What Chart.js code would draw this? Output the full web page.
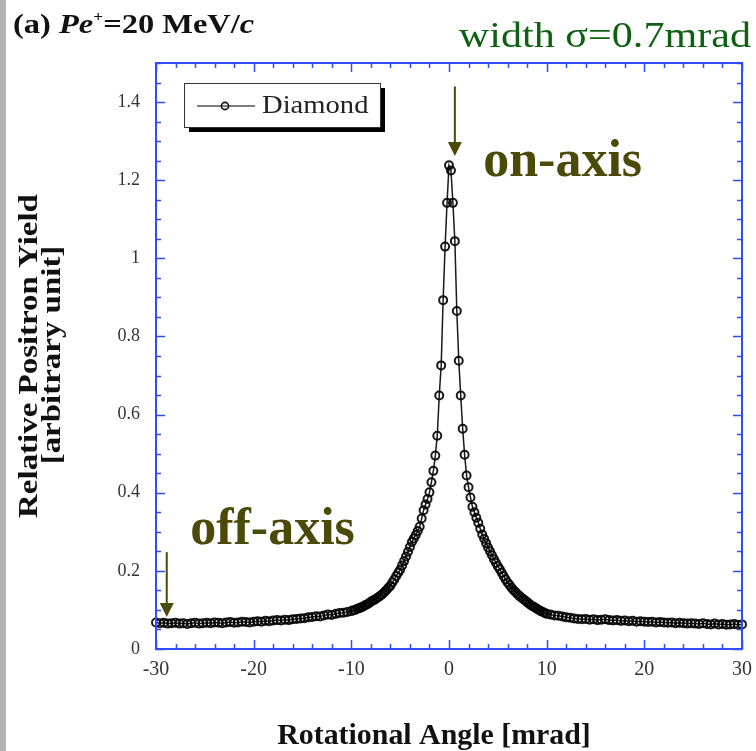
<!DOCTYPE html>
<html>
<head>
<meta charset="utf-8">
<script src="https://cdn.jsdelivr.net/npm/chart.js@4.4.1/dist/chart.umd.min.js"></script>
<style>
  html, body { margin: 0; padding: 0; background: #fff; }
  #wrap { width: 756px; height: 751px; position: relative; }
</style>
</head>
<body>
<div id="wrap"><canvas id="yieldChart" width="756" height="751"></canvas></div>
<script>
// Positron yield vs crystal rotation angle.

// wings are sampled coarser, the peak region every 0.2 mrad
const angleWingL = [-30.0, -29.6, -29.2, -28.8, -28.4, -28.0, -27.6, -27.2, -26.8, -26.4,
  -26.0, -25.6, -25.2, -24.8, -24.4, -24.0, -23.6, -23.2, -22.8, -22.4,
  -22.0, -21.6, -21.2, -20.8, -20.4, -20.0, -19.6, -19.2, -18.8, -18.4,
  -18.0, -17.6, -17.2, -16.8, -16.4, -16.0, -15.6, -15.2, -14.8, -14.4,
  -14.0, -13.6, -13.2, -12.8, -12.4, -12.0, -11.6, -11.2, -10.8, -10.4];
const yieldWingL = [0.068, 0.066, 0.067, 0.065, 0.066, 0.067, 0.065, 0.066, 0.064, 0.066,
  0.067, 0.065, 0.066, 0.067, 0.066, 0.068, 0.067, 0.066, 0.068, 0.069,
  0.067, 0.068, 0.070, 0.069, 0.068, 0.070, 0.071, 0.070, 0.072, 0.071,
  0.073, 0.074, 0.073, 0.075, 0.074, 0.076, 0.077, 0.078, 0.079, 0.081,
  0.082, 0.084, 0.083, 0.086, 0.088, 0.087, 0.090, 0.092, 0.093, 0.095];

const angleCore = [-10.0, -9.8, -9.6, -9.4, -9.2, -9.0, -8.8, -8.6, -8.4, -8.2,
  -8.0, -7.8, -7.6, -7.4, -7.2, -7.0, -6.8, -6.6, -6.4, -6.2,
  -6.0, -5.8, -5.6, -5.4, -5.2, -5.0, -4.8, -4.6, -4.4, -4.2,
  -4.0, -3.8, -3.6, -3.4, -3.2, -3.0, -2.8, -2.6, -2.4, -2.2,
  -2.0, -1.8, -1.6, -1.4, -1.2, -1.0, -0.8, -0.6, -0.4, -0.2,
  0.0,
  0.2, 0.4, 0.6, 0.8, 1.0, 1.2, 1.4, 1.6, 1.8, 2.0,
  2.2, 2.4, 2.6, 2.8, 3.0, 3.2, 3.4, 3.6, 3.8, 4.0,
  4.2, 4.4, 4.6, 4.8, 5.0, 5.2, 5.4, 5.6, 5.8, 6.0,
  6.2, 6.4, 6.6, 6.8, 7.0, 7.2, 7.4, 7.6, 7.8, 8.0,
  8.2, 8.4, 8.6, 8.8, 9.0, 9.2, 9.4, 9.6, 9.8, 10.0];
const yieldCore = [0.097, 0.099, 0.100, 0.103, 0.104, 0.107, 0.108, 0.112, 0.114, 0.117,
  0.121, 0.124, 0.126, 0.130, 0.133, 0.137, 0.141, 0.146, 0.151, 0.157,
  0.162, 0.170, 0.178, 0.187, 0.195, 0.203, 0.214, 0.225, 0.237, 0.249,
  0.261, 0.274, 0.283, 0.292, 0.302, 0.313, 0.334, 0.355, 0.370, 0.384,
  0.401, 0.427, 0.456, 0.495, 0.546, 0.649, 0.726, 0.893, 1.030, 1.142,
  1.238,
  1.225, 1.142, 1.044, 0.865, 0.738, 0.649, 0.564, 0.497, 0.444, 0.414,
  0.388, 0.364, 0.350, 0.336, 0.323, 0.308, 0.293, 0.282, 0.271, 0.260,
  0.250, 0.240, 0.230, 0.221, 0.212, 0.204, 0.195, 0.186, 0.178, 0.170,
  0.164, 0.157, 0.151, 0.146, 0.141, 0.136, 0.132, 0.128, 0.124, 0.120,
  0.116, 0.112, 0.109, 0.106, 0.103, 0.100, 0.097, 0.095, 0.092, 0.090];

const angleWingR = [10.4, 10.8, 11.2, 11.6, 12.0, 12.4, 12.8, 13.2, 13.6, 14.0,
  14.4, 14.8, 15.2, 15.6, 16.0, 16.4, 16.8, 17.2, 17.6, 18.0,
  18.4, 18.8, 19.2, 19.6, 20.0, 20.4, 20.8, 21.2, 21.6, 22.0,
  22.4, 22.8, 23.2, 23.6, 24.0, 24.4, 24.8, 25.2, 25.6, 26.0,
  26.4, 26.8, 27.2, 27.6, 28.0, 28.4, 28.8, 29.2, 29.6, 30.0];
const yieldWingR = [0.088, 0.086, 0.085, 0.083, 0.081, 0.080, 0.078, 0.077, 0.076, 0.077,
  0.075, 0.076, 0.074, 0.075, 0.076, 0.074, 0.073, 0.074, 0.072, 0.073,
  0.071, 0.072, 0.070, 0.071, 0.070, 0.069, 0.070, 0.068, 0.069, 0.068,
  0.067, 0.068, 0.066, 0.067, 0.066, 0.065, 0.066, 0.065, 0.064, 0.066,
  0.064, 0.063, 0.065, 0.063, 0.064, 0.062, 0.063, 0.064, 0.062, 0.063];

const xTicks = [-30, -20, -10, 0, 10, 20, 30];
const yTicks = [0, 0.2, 0.4, 0.6, 0.8, 1, 1.2, 1.4];
const seriesLabel = "Diamond";
const xTitle = "Rotational Angle [mrad]";
const yTitle = ["Relative Positron Yield", "[arbitrary unit]"];

const SERIF = '"Liberation Serif", "Times New Roman", serif';
const AXIS_BLUE = "#2f4cff";
const OLIVE = "#4b4a08";
const GREEN = "#0f6112";

const angles = angleWingL.concat(angleCore, angleWingR);
const yields = yieldWingL.concat(yieldCore, yieldWingR);
const points = angles.map((a, i) => ({ x: a, y: yields[i] }));

function arrowDown(ctx, x, yTop, yTip) {
  ctx.beginPath();
  ctx.moveTo(x, yTop);
  ctx.lineTo(x, yTip - 10);
  ctx.stroke();
  ctx.beginPath();
  ctx.moveTo(x - 7, yTip - 14);
  ctx.lineTo(x + 7, yTip - 14);
  ctx.lineTo(x, yTip);
  ctx.closePath();
  ctx.fill();
}

// the scanned lettering is a bit wider than Liberation Serif, so stretch it
function wideText(ctx, text, x, y, font, sx, align, rot) {
  ctx.save();
  ctx.translate(x, y);
  if (rot) ctx.rotate(rot);
  ctx.scale(sx, 1);
  ctx.font = font;
  ctx.textAlign = align || "left";
  ctx.fillText(text, 0, 0);
  ctx.restore();
}

// text made of runs with different fonts (italic symbols, superscript)
function drawRuns(ctx, x, y, sx, runs) {
  ctx.save();
  ctx.translate(x, y);
  ctx.scale(sx, 1);
  ctx.textAlign = "left";
  ctx.textBaseline = "alphabetic";
  let cx = 0;
  for (const r of runs) {
    ctx.font = r.font;
    ctx.fillText(r.t, cx, r.dy || 0);
    cx += ctx.measureText(r.t).width;
  }
  ctx.restore();
}

const decorPlugin = {
  id: "decorPlugin",
  beforeDraw(chart) {
    const { ctx, width, height } = chart;
    ctx.save();
    ctx.fillStyle = "#fff";
    ctx.fillRect(0, 0, width, height);
    ctx.fillStyle = "#b3b3b3";
    ctx.fillRect(0, 0, 6, height);
    ctx.restore();
  },
  afterDatasetsDraw(chart) {
    const { ctx, chartArea: a, scales: { x, y } } = chart;
    ctx.save();

    // frame with inward ticks on all four sides
    ctx.strokeStyle = AXIS_BLUE;
    ctx.lineWidth = 2;
    ctx.strokeRect(a.left, a.top, a.right - a.left, a.bottom - a.top);
    ctx.lineWidth = 1.5;
    ctx.beginPath();
    for (let i = 0; i <= 30; i++) {
      const v = -30 + 2 * i;
      const len = v % 10 === 0 ? 9 : 5;
      const px = Math.round(x.getPixelForValue(v)) + 0.5;
      ctx.moveTo(px, a.bottom); ctx.lineTo(px, a.bottom - len);
      ctx.moveTo(px, a.top); ctx.lineTo(px, a.top + len);
    }
    for (let i = 0; i <= 30; i++) {
      const len = i % 4 === 0 ? 9 : 5;
      const py = Math.round(y.getPixelForValue(i * 0.05)) + 0.5;
      ctx.moveTo(a.left, py); ctx.lineTo(a.left + len, py);
      ctx.moveTo(a.right, py); ctx.lineTo(a.right - len, py);
    }
    ctx.stroke();

    // axis titles
    ctx.fillStyle = "#111";
    ctx.textBaseline = "alphabetic";
    wideText(ctx, xTitle, a.left + 278, 744, "bold 29px " + SERIF, 1.03, "center");
    ctx.textBaseline = "middle";
    wideText(ctx, yTitle[0], 30, 356, "bold 27px " + SERIF, 1.22, "center", -Math.PI / 2);
    wideText(ctx, yTitle[1], 53, 355, "bold 27px " + SERIF, 1.22, "center", -Math.PI / 2);

    // legend box with drop shadow
    const lx = a.left + 28, ly = a.top + 20, lw = 196, lh = 44;
    ctx.fillStyle = "#000";
    ctx.fillRect(lx + 5, ly + 5, lw, lh);
    ctx.fillStyle = "#fff";
    ctx.fillRect(lx, ly, lw, lh);
    ctx.strokeStyle = "#333";
    ctx.lineWidth = 1;
    ctx.strokeRect(lx + 0.5, ly + 0.5, lw, lh);
    ctx.strokeStyle = "#555";
    ctx.lineWidth = 1.3;
    ctx.beginPath();
    ctx.moveTo(lx + 13, ly + 23); ctx.lineTo(lx + 71, ly + 23);
    ctx.stroke();
    ctx.beginPath();
    ctx.arc(lx + 41, ly + 23, 3.6, 0, Math.PI * 2);
    ctx.strokeStyle = "#111";
    ctx.lineWidth = 1.6;
    ctx.stroke();
    ctx.fillStyle = "#222";
    ctx.textBaseline = "middle";
    wideText(ctx, seriesLabel, lx + 78, ly + 23, "26px " + SERIF, 1.1, "left");

    // on-axis / off-axis annotations
    ctx.fillStyle = OLIVE;
    ctx.strokeStyle = OLIVE;
    ctx.lineWidth = 2;
    arrowDown(ctx, x.getPixelForValue(0.6), y.getPixelForValue(1.44), y.getPixelForValue(1.262));
    arrowDown(ctx, x.getPixelForValue(-28.9), y.getPixelForValue(0.248), y.getPixelForValue(0.082));
    ctx.textBaseline = "alphabetic";
    ctx.textAlign = "left";
    ctx.font = "bold 52px " + SERIF;
    ctx.fillText("on-axis", x.getPixelForValue(3.5), y.getPixelForValue(1.21));
    ctx.fillText("off-axis", x.getPixelForValue(-26.5), y.getPixelForValue(0.27));

    // panel title and width note
    ctx.fillStyle = "#111";
    drawRuns(ctx, 13, 33, 1.16, [
      { t: "(a) ", font: "bold 28px " + SERIF },
      { t: "Pe", font: "italic bold 28px " + SERIF },
      { t: "+", font: "bold 15px " + SERIF, dy: -12 },
      { t: "=20 MeV/", font: "bold 28px " + SERIF },
      { t: "c", font: "italic bold 28px " + SERIF }
    ]);
    ctx.fillStyle = GREEN;
    ctx.textBaseline = "alphabetic";
    wideText(ctx, "width \u03c3=0.7mrad", 751, 47, "36px " + SERIF, 1.17, "right");

    ctx.restore();
  }
};

new Chart(document.getElementById("yieldChart").getContext("2d"), {
  type: "line",
  data: {
    datasets: [
      {
        label: seriesLabel,
        data: points,
        borderColor: "#1a1a1a",
        borderWidth: 1.5,
        tension: 0,
        pointRadius: 4,
        pointBorderWidth: 2,
        pointBorderColor: "rgba(0,0,0,0.9)",
        pointBackgroundColor: "rgba(255,255,255,0)",
        fill: false,
        clip: 8
      }
    ]
  },
  options: {
    responsive: false,
    animation: false,
    devicePixelRatio: 1,
    layout: { padding: { left: 0, top: 63, right: 14, bottom: 0 } },
    scales: {
      x: {
        type: "linear",
        min: -30,
        max: 30,
        afterFit: (s) => { s.height = 102; s.paddingLeft = 0; s.paddingRight = 0; },
        afterBuildTicks: (s) => { s.ticks = xTicks.map(v => ({ value: v })); },
        grid: { display: false, drawTicks: false },
        border: { display: false },
        ticks: {
          padding: 9,
          color: "#333",
          font: { family: SERIF, size: 20 },
          callback: (v) => String(v)
        },
        title: { display: false, text: xTitle }
      },
      y: {
        type: "linear",
        min: 0,
        max: 1.5,
        afterFit: (s) => { s.width = 156; s.paddingTop = 0; s.paddingBottom = 0; },
        afterBuildTicks: (s) => { s.ticks = yTicks.map(v => ({ value: v })); },
        grid: { display: false, drawTicks: false },
        border: { display: false },
        ticks: {
          padding: 16,
          color: "#333",
          font: { family: SERIF, size: 18 },
          callback: (v) => String(v)
        },
        title: { display: false, text: yTitle }
      }
    },
    plugins: {
      legend: { display: false },
      tooltip: { enabled: false }
    }
  },
  plugins: [decorPlugin]
});
</script>
</body>
</html>
